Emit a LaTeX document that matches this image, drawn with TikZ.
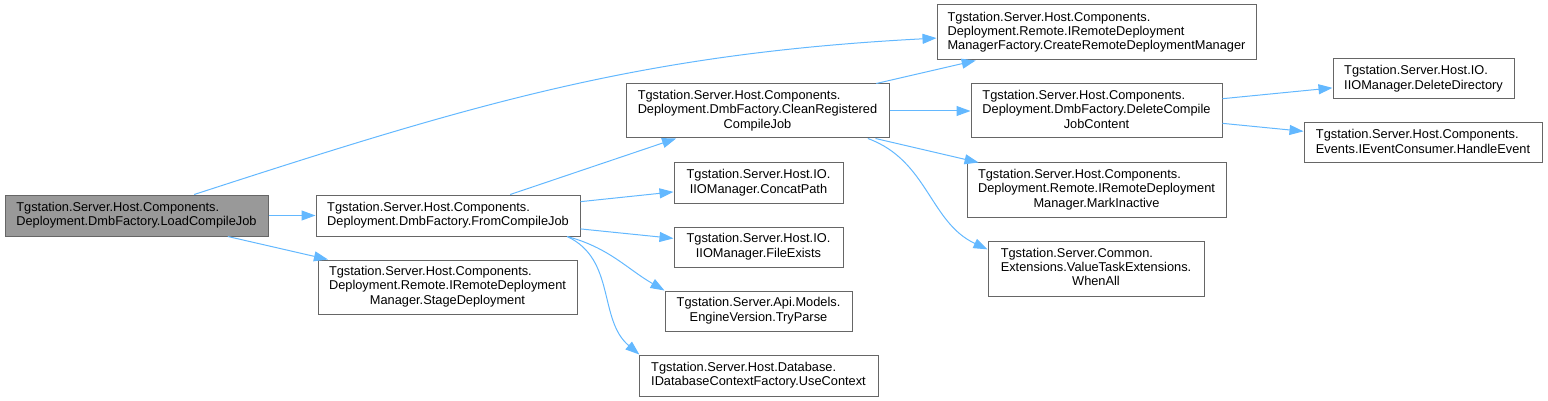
\documentclass[tikz,border=0pt]{standalone}
\usepackage{fontspec}
\setmainfont{Liberation Sans}
\usepackage{tikz}
\usetikzlibrary{arrows.meta}
\definecolor{edgeBlue}{HTML}{63B8FF}
\definecolor{boxGray}{HTML}{666666}
\definecolor{rootGray}{HTML}{999999}
% labels: upper lines flush left, last line centred
\providecommand{\TwoL}[2]{%
  \begin{tabular}{@{}l@{}}#1\\\multicolumn{1}{@{}c@{}}{#2}\end{tabular}}
\providecommand{\ThreeL}[3]{%
  \begin{tabular}{@{}l@{}}#1\\#2\\\multicolumn{1}{@{}c@{}}{#3}\end{tabular}}

\begin{document}
\begin{tikzpicture}[x=1pt, y=1pt,
  fn/.style={draw=boxGray, line width=1pt, fill=white, inner sep=0pt,
    font=\fontsize{12.8}{14.3}\selectfont},
  root/.style={fn, fill=rootGray},
  call/.style={draw=edgeBlue, line width=1pt, -{Triangle[length=14pt, width=10pt]}}]

	\useasboundingbox (0,0) rectangle (1548,-401);

	% caller
	\node[root, minimum width=263, minimum height=41] (load) at (136.5,-215.5)
		{\TwoL{Tgstation.Server.Host.Components.}{Deployment.DmbFactory.LoadCompileJob}};

	% first level
	\node[fn, minimum width=264, minimum height=41] (from) at (448,-215.5)
		{\TwoL{Tgstation.Server.Host.Components.}{Deployment.DmbFactory.FromCompileJob}};
	\node[fn, minimum width=259, minimum height=54] (stage) at (447.5,-287)
		{\ThreeL{Tgstation.Server.Host.Components.}{Deployment.Remote.IRemoteDeployment}{Manager.StageDeployment}};

	% second level
	\node[fn, minimum width=263, minimum height=54] (clean) at (757.5,-111)
		{\ThreeL{Tgstation.Server.Host.Components.}{Deployment.DmbFactory.CleanRegistered}{CompileJob}};
	\node[fn, minimum width=169, minimum height=40] (concat) at (758.5,-183)
		{\TwoL{Tgstation.Server.Host.IO.}{IIOManager.ConcatPath}};
	\node[fn, minimum width=169, minimum height=40] (fileex) at (758.5,-247)
		{\TwoL{Tgstation.Server.Host.IO.}{IIOManager.FileExists}};
	\node[fn, minimum width=187, minimum height=40] (tryparse) at (758.5,-311)
		{\TwoL{Tgstation.Server.Api.Models.}{EngineVersion.TryParse}};
	\node[fn, minimum width=239, minimum height=41] (usectx) at (758.5,-375.5)
		{\TwoL{Tgstation.Server.Host.Database.}{IDatabaseContextFactory.UseContext}};

	% third level
	\node[fn, minimum width=319, minimum height=55] (create) at (1096.5,-32.5)
		{\ThreeL{Tgstation.Server.Host.Components.}{Deployment.Remote.IRemoteDeployment}{ManagerFactory.CreateRemoteDeploymentManager}};
	\node[fn, minimum width=251, minimum height=54] (delcompile) at (1096.5,-111)
		{\ThreeL{Tgstation.Server.Host.Components.}{Deployment.DmbFactory.DeleteCompile}{JobContent}};
	\node[fn, minimum width=259, minimum height=54] (markinact) at (1096.5,-190)
		{\ThreeL{Tgstation.Server.Host.Components.}{Deployment.Remote.IRemoteDeployment}{Manager.MarkInactive}};
	\node[fn, minimum width=216, minimum height=55] (whenall) at (1096,-268.5)
		{\ThreeL{Tgstation.Server.Common.}{Extensions.ValueTaskExtensions.}{WhenAll}};

	% fourth level
	\node[fn, minimum width=181, minimum height=40] (deldir) at (1423.5,-79)
		{\TwoL{Tgstation.Server.Host.IO.}{IIOManager.DeleteDirectory}};
	\node[fn, minimum width=238, minimum height=40] (handle) at (1423,-143)
		{\TwoL{Tgstation.Server.Host.Components.}{Events.IEventConsumer.HandleEvent}};

	% calls
	\draw[call] (load.20) to[out=18, in=183] (create.182);
	\draw[call] (load) -- (from);
	\draw[call] (load) -- (stage);

	\draw[call] (from) -- (clean);
	\draw[call] (from) -- (concat);
	\draw[call] (from) -- (fileex);
	\draw[call] (from.-10) to[out=-15, in=150] (tryparse.north west);
	\draw[call] (from.-10) to[out=-25, in=140] (usectx.170);

	\draw[call] (clean) -- (create);
	\draw[call] (clean) -- (delcompile);
	\draw[call] (clean) -- (markinact);
	\draw[call] (clean.-14) to[out=-20, in=155] (whenall.170);

	\draw[call] (delcompile) -- (deldir);
	\draw[call] (delcompile) -- (handle);

\end{tikzpicture}
\end{document}
